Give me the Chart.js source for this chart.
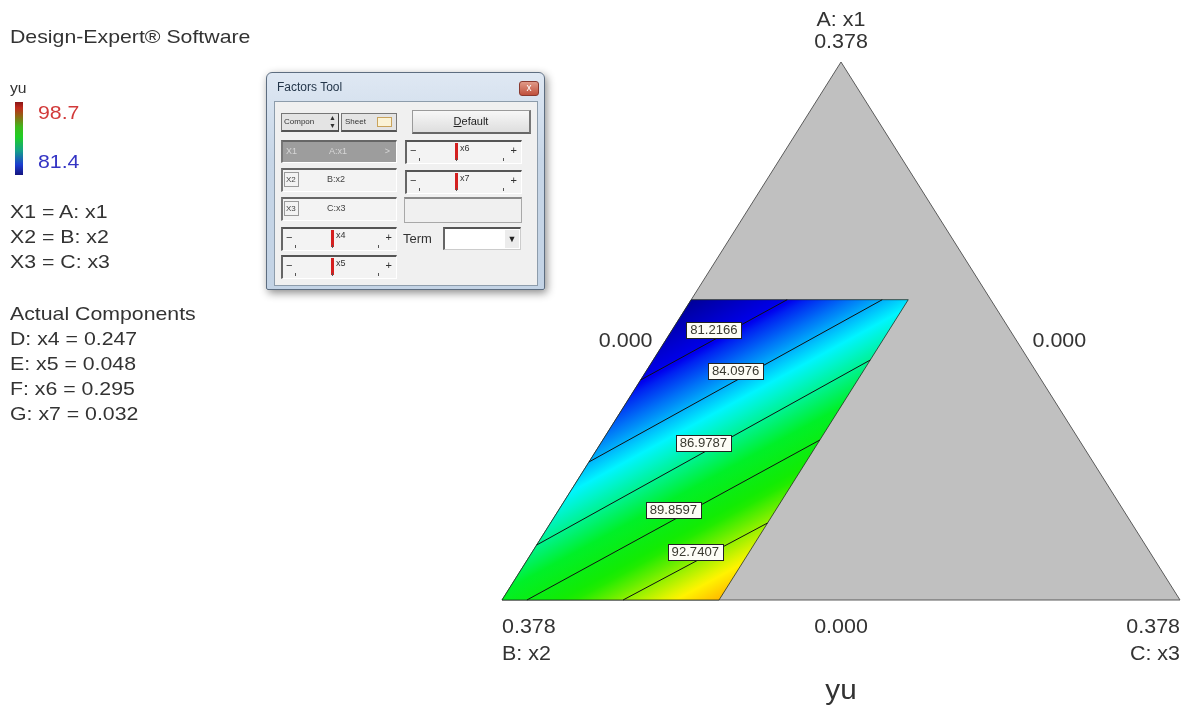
<!DOCTYPE html>
<html>
<head>
<meta charset="utf-8">
<script src="https://cdn.jsdelivr.net/npm/chart.js@4/dist/chart.umd.min.js"></script>
<style>
  html,body{margin:0;padding:0;background:#fff;}
  body{width:1190px;height:714px;position:relative;overflow:hidden;font-family:"Liberation Sans",Arial,sans-serif;}
  #wrap{position:absolute;left:0;top:0;width:1190px;height:714px;}
  .t{position:absolute;white-space:nowrap;transform-origin:0 50%;transform:scaleX(1.12);color:#333;font-size:19px;line-height:24px;}
  .w{position:absolute;box-sizing:border-box;font-family:"Liberation Sans",Arial,sans-serif;}
  .sl{position:absolute;box-sizing:border-box;background:#f3f3f3;border-top:2px solid #555;border-left:2px solid #666;border-right:1px solid #fff;border-bottom:1px solid #fff;}
  .sl .m{position:absolute;top:1px;width:3px;height:17px;background:#d42020;}
  .sl .lb{position:absolute;top:1px;font-size:9px;color:#333;}
  .sl .pm{position:absolute;top:3px;font-size:11px;color:#333;line-height:11px;}
  .sl .tk{position:absolute;bottom:2px;width:1px;height:3px;background:#555;}
  .fb{position:absolute;box-sizing:border-box;background:#f3f3f3;border-top:2px solid #666;border-left:2px solid #777;border-right:1px solid #fff;border-bottom:1px solid #fff;font-size:9px;color:#444;}
  .fb .k{position:absolute;left:1px;top:2px;width:15px;height:15px;border:1px solid #999;box-sizing:border-box;font-size:8px;line-height:13px;padding-left:1px;}
</style>
</head>
<body>
<div id="wrap"><canvas id="c"></canvas></div>

<!-- left legend panel -->
<div class="t" style="left:10px;top:25px;">Design-Expert® Software</div>
<div class="t" style="left:10px;top:76px;font-size:14px;">yu</div>
<div style="position:absolute;left:15px;top:102px;width:8px;height:73px;background:linear-gradient(to top,#14147e 0%,#1c3cd0 14%,#14a08a 33%,#1fcf24 52%,#3fb81c 66%,#8c6a14 80%,#c02a1c 92%,#8a1616 100%);"></div>
<div class="t" style="left:38px;top:101px;color:#d23a3a;">98.7</div>
<div class="t" style="left:38px;top:150px;color:#3434c4;">81.4</div>
<div id="legendLines"></div>

<!-- Factors Tool window (inset screenshot) -->
<div class="w" style="left:266px;top:72px;width:279px;height:218px;background:linear-gradient(#dfe8f3,#c7d6e7 40%,#c3d3e5);border:1px solid #5d6d80;border-radius:6px 6px 2px 2px;box-shadow:2px 3px 8px rgba(0,0,0,0.45);"></div>
<div class="w" style="left:277px;top:80px;font-size:12px;color:#24364a;">Factors Tool</div>
<div class="w" style="left:519px;top:81px;width:20px;height:15px;background:linear-gradient(#e09a88,#c0503c);border:1px solid #8a3a30;border-radius:3px;color:#fff;font-size:10px;line-height:12px;text-align:center;">x</div>
<div class="w" style="left:274px;top:101px;width:264px;height:185px;background:#f0f0f0;border:1px solid #8d9cab;"></div>

<div class="w" style="left:281px;top:113px;width:58px;height:19px;background:#e4e4e4;border:1px solid #777;border-right-color:#444;border-bottom:2px solid #555;font-size:8px;line-height:15px;padding-left:2px;color:#333;">Compon<span style="position:absolute;right:2px;top:0;font-size:7px;line-height:8px;">▲<br>▼</span></div>
<div class="w" style="left:341px;top:113px;width:56px;height:19px;background:#e4e4e4;border:1px solid #777;border-bottom:2px solid #555;font-size:8px;line-height:15px;padding-left:3px;color:#333;">Sheet<span style="position:absolute;left:35px;top:3px;width:15px;height:10px;background:#fbf3d6;border:1px solid #c9a35c;box-sizing:border-box;"></span></div>
<div class="w" style="left:412px;top:110px;width:119px;height:24px;background:linear-gradient(#f7f7f7,#dedede);border:1px solid #9a9a9a;border-bottom:2px solid #666;border-right:2px solid #777;font-size:11px;line-height:20px;text-align:center;color:#222;"><u>D</u>efault</div>

<div class="fb" style="left:281px;top:140px;width:116px;height:23px;background:#9d9d9d;border-top-color:#666;color:#d6d6d6;"><span style="position:absolute;left:3px;top:4px;">X1</span><span style="position:absolute;left:46px;top:4px;">A:x1</span><span style="position:absolute;right:6px;top:4px;">&gt;</span></div>
<div class="fb" style="left:281px;top:168px;width:116px;height:24px;"><span class="k">X2</span><span style="position:absolute;left:44px;top:4px;">B:x2</span></div>
<div class="fb" style="left:281px;top:197px;width:116px;height:24px;"><span class="k">X3</span><span style="position:absolute;left:44px;top:4px;">C:x3</span></div>
<div id="sliders"></div>
<div class="w" style="left:404px;top:197px;width:118px;height:26px;background:#f0f0f0;border:1px solid #a8a8a8;border-top:2px solid #8a8a8a;"></div>
<div class="w" style="left:403px;top:231px;font-size:13px;color:#333;">Term</div>
<div class="w" style="left:443px;top:227px;width:78px;height:23px;background:#fff;border-top:2px solid #555;border-left:2px solid #666;border-right:1px solid #ccc;border-bottom:1px solid #ccc;"><span style="position:absolute;right:1px;top:1px;width:14px;height:18px;background:#ececec;font-size:9px;line-height:18px;text-align:center;color:#222;">▼</span></div>

<script>
// ---------------- data ----------------
const TOTAL = 0.378;                       // mixture total for A+B+C (actual units)
const vertexNames = ['A: x1', 'B: x2', 'C: x3'];
const vertexMax = [0.378, 0.378, 0.378];   // tick label at each vertex
const edgeMin = [0.000, 0.000, 0.000];     // tick label at the opposite edge
const responseName = 'yu';
const colorMin = 81.4;
const colorMax = 98.7;

// feasible (coloured) region, corners in actual component units
const regionA = [0.000, 0.000, 0.211, 0.211];
const regionC = [0.000, 0.121, 0.121, 0.000];

// contour lines: level, start point (A, C) and end point (A, C)
const contourLevels = [81.2166, 84.0976, 86.9787, 89.8597, 92.7407];
const contourStartA = [0.211, 0.211, 0.1686, 0.1124, 0.0541];
const contourStartC = [0.0535, 0.1065, 0.121, 0.121, 0.121];
const contourEndA   = [0.1546, 0.0970, 0.0386, 0.000, 0.000];
const contourEndC   = [0.000, 0.000, 0.000, 0.0139, 0.0675];

const factorLines = ['X1 = A: x1', 'X2 = B: x2', 'X3 = C: x3'];
const actualComponents = ['D: x4 = 0.247', 'E: x5 = 0.048', 'F: x6 = 0.295', 'G: x7 = 0.032'];
const sliderNames = ['x4', 'x5', 'x6', 'x7'];

// ---------------- left legend text ----------------
(function(){
  const host = document.getElementById('legendLines');
  const add = (txt, top) => { const d = document.createElement('div'); d.className = 't'; d.style.left = '10px'; d.style.top = top + 'px'; d.textContent = txt; host.appendChild(d); };
  factorLines.forEach((s, i) => add(s, 200 + i * 25));
  add('Actual Components', 302);
  actualComponents.forEach((s, i) => add(s, 327 + i * 25));
})();

// ---------------- factors tool sliders ----------------
(function(){
  const host = document.getElementById('sliders');
  const boxes = [[281, 227, 116], [281, 255, 116], [405, 140, 117], [405, 170, 117]];
  sliderNames.forEach((n, i) => {
    const [l, t, w] = boxes[i];
    const d = document.createElement('div'); d.className = 'sl';
    d.style.left = l + 'px'; d.style.top = t + 'px'; d.style.width = w + 'px'; d.style.height = '24px';
    const mx = Math.round(w * 0.41);
    d.innerHTML = '<span class="pm" style="left:3px;">\u2212</span><span class="pm" style="right:4px;">+</span>' +
      '<span class="m" style="left:' + mx + 'px;"></span><span class="lb" style="left:' + (mx + 5) + 'px;">' + n + '</span>' +
      '<span class="tk" style="left:' + Math.round(w * 0.1) + 'px;"></span><span class="tk" style="left:' + (mx + 1) + 'px;"></span><span class="tk" style="left:' + Math.round(w * 0.82) + 'px;"></span>';
    host.appendChild(d);
  });
})();

// ---------------- chart ----------------
function toXY(A, C) { const a = A / TOTAL, c = C / TOTAL; return { x: c + a / 2, y: a }; }

function colorFor(v) {
  const t = (v - colorMin) / (colorMax - colorMin);
  if (t < 0) { const k = Math.min(1, -t / 0.2); return 'rgb(0,0,' + Math.round(240 - 100 * k) + ')'; }
  const stops = [[0, 0, 10, 240], [0.22, 0, 245, 255], [0.42, 0, 240, 40], [0.56, 20, 235, 0], [0.74, 255, 245, 0], [0.86, 255, 150, 0], [1, 230, 0, 0]];
  const tt = Math.min(1, t);
  for (let i = 0; i < stops.length - 1; i++) {
    const s0 = stops[i], s1 = stops[i + 1];
    if (tt <= s1[0]) {
      const f = (tt - s0[0]) / (s1[0] - s0[0]);
      return 'rgb(' + [1, 2, 3].map(j => Math.round(s0[j] + f * (s1[j] - s0[j]))).join(',') + ')';
    }
  }
  return 'rgb(230,0,0)';
}

function regionFill(context) {
  const chart = context.chart;
  const { chartArea, scales } = chart;
  if (!chartArea || !scales.x) return 'rgba(0,0,0,0)';
  const X = scales.x, Y = scales.y;
  const pix = (A, C) => { const p = toXY(A, C); return { x: X.getPixelForValue(p.x), y: Y.getPixelForValue(p.y) }; };
  const segs = contourLevels.map((lv, i) => [pix(contourStartA[i], contourStartC[i]), pix(contourEndA[i], contourEndC[i])]);
  let dx = 0, dy = 0;
  segs.forEach(([p, q]) => { const l = Math.hypot(q.x - p.x, q.y - p.y); dx += (q.x - p.x) / l; dy += (q.y - p.y) / l; });
  const L = Math.hypot(dx, dy); dx /= L; dy /= L;
  let nx = -dy, ny = dx;
  const proj = p => p.x * nx + p.y * ny;
  const mid = s => ({ x: (s[0].x + s[1].x) / 2, y: (s[0].y + s[1].y) / 2 });
  let pr = segs.map(s => proj(mid(s)));
  if (pr[pr.length - 1] < pr[0]) { nx = -nx; ny = -ny; pr = pr.map(v => -v); }
  const corners = regionA.map((a, i) => pix(a, regionC[i]));
  const cp = corners.map(proj);
  const pmin = Math.min(...cp), pmax = Math.max(...cp);
  const ref = corners[0], r0 = proj(ref);
  const g0 = { x: ref.x + nx * (pmin - r0), y: ref.y + ny * (pmin - r0) };
  const g1 = { x: ref.x + nx * (pmax - r0), y: ref.y + ny * (pmax - r0) };
  const grad = chart.ctx.createLinearGradient(g0.x, g0.y, g1.x, g1.y);
  const valueAt = p => {
    let i = 0; while (i < pr.length - 2 && p > pr[i + 1]) i++;
    return contourLevels[i] + (p - pr[i]) * (contourLevels[i + 1] - contourLevels[i]) / (pr[i + 1] - pr[i]);
  };
  for (let k = 0; k <= 40; k++) { const s = k / 40; grad.addColorStop(s, colorFor(valueAt(pmin + s * (pmax - pmin)))); }
  return grad;
}

const FONT = '"Liberation Sans", Arial, sans-serif';
function drawText(ctx, str, x, y, align, size, color) {
  ctx.save();
  ctx.font = size + 'px ' + FONT;
  ctx.fillStyle = color;
  ctx.textBaseline = 'middle';
  ctx.textAlign = align;
  ctx.translate(x, y);
  ctx.scale(1.1, 1);
  ctx.fillText(str, 0, 0);
  ctx.restore();
}

const labelPlugin = {
  id: 'ternaryLabels',
  afterDatasetsDraw(chart) {
    const { ctx, scales } = chart;
    const X = scales.x, Y = scales.y;
    const pix = (A, C) => { const p = toXY(A, C); return { x: X.getPixelForValue(p.x), y: Y.getPixelForValue(p.y) }; };
    // contour labels
    contourLevels.forEach((lv, i) => {
      const p = pix(contourStartA[i], contourStartC[i]), q = pix(contourEndA[i], contourEndC[i]);
      const cx = (p.x + q.x) / 2, cy = (p.y + q.y) / 2 - 10;
      const txt = lv.toFixed(4);
      ctx.save();
      ctx.font = '12.5px ' + FONT;
      const w = ctx.measureText(txt).width * 1.05 + 8, h = 16;
      ctx.fillStyle = '#fdfdf6';
      ctx.fillRect(Math.round(cx - w / 2) + 0.5, Math.round(cy - h / 2) + 0.5, Math.round(w), h);
      ctx.strokeStyle = '#222'; ctx.lineWidth = 1;
      ctx.strokeRect(Math.round(cx - w / 2) + 0.5, Math.round(cy - h / 2) + 0.5, Math.round(w), h);
      ctx.restore();
      ctx.save();
      ctx.font = '12.5px ' + FONT; ctx.fillStyle = '#3a3a30'; ctx.textBaseline = 'middle'; ctx.textAlign = 'center';
      ctx.translate(cx, cy + 1); ctx.scale(1.05, 1); ctx.fillText(txt, 0, 0); ctx.restore();
    });
    // vertex and edge labels
    const vA = pix(TOTAL, 0), vB = pix(0, 0), vC = pix(0, TOTAL);
    const col = '#333', fs = 19.5;
    drawText(ctx, vertexNames[0], vA.x, vA.y - 41, 'center', fs, col);
    drawText(ctx, vertexMax[0].toFixed(3), vA.x, vA.y - 19, 'center', fs, col);
    drawText(ctx, vertexMax[1].toFixed(3), vB.x, vB.y + 28, 'left', fs, col);
    drawText(ctx, vertexNames[1], vB.x, vB.y + 55, 'left', fs, col);
    drawText(ctx, vertexMax[2].toFixed(3), vC.x, vC.y + 28, 'right', fs, col);
    drawText(ctx, vertexNames[2], vC.x, vC.y + 55, 'right', fs, col);
    // edge minimums (opposite each vertex)
    const mBC = { x: (vB.x + vC.x) / 2, y: vB.y };
    const mAB = { x: (vA.x + vB.x) / 2, y: (vA.y + vB.y) / 2 };
    const mAC = { x: (vA.x + vC.x) / 2, y: (vA.y + vC.y) / 2 };
    drawText(ctx, edgeMin[0].toFixed(3), mBC.x, mBC.y + 28, 'center', fs, col);
    drawText(ctx, edgeMin[2].toFixed(3), mAB.x - 19, mAB.y + 11, 'right', fs, col);
    drawText(ctx, edgeMin[1].toFixed(3), mAC.x + 22, mAC.y + 11, 'left', fs, col);
    drawText(ctx, responseName, mBC.x, mBC.y + 92, 'center', 27, col);
  }
};

const close = (arrA, arrC) => { const pts = arrA.map((a, i) => toXY(a, arrC[i])); pts.push(pts[0]); return pts; };

const datasets = [
  {
    label: 'simplex',
    data: close([0, 0, TOTAL], [0, TOTAL, 0]),
    showLine: true, fill: 'shape', backgroundColor: '#c0c0c0', borderColor: '#5a5a5a', borderWidth: 1,
    pointRadius: 0, order: 3, clip: false
  },
  {
    label: 'region',
    data: close(regionA, regionC),
    showLine: true, fill: 'shape', backgroundColor: regionFill, borderColor: 'rgba(30,40,30,0.75)', borderWidth: 1,
    pointRadius: 0, order: 2, clip: false
  }
];
contourLevels.forEach((lv, i) => {
  datasets.push({
    label: String(lv),
    data: [toXY(contourStartA[i], contourStartC[i]), toXY(contourEndA[i], contourEndC[i])],
    showLine: true, fill: false, borderColor: '#111', borderWidth: 1, pointRadius: 0, order: 1, clip: false
  });
});

Chart.defaults.font.family = FONT;
new Chart(document.getElementById('c'), {
  type: 'scatter',
  data: { datasets },
  options: {
    responsive: true, maintainAspectRatio: false, animation: false,
    layout: { padding: { left: 502, right: 10, top: 62, bottom: 114 } },
    plugins: { legend: { display: false }, tooltip: { enabled: false }, title: { display: false } },
    scales: {
      x: { type: 'linear', min: 0, max: 1, display: false },
      y: { type: 'linear', min: 0, max: 1, display: false }
    },
    elements: { line: { tension: 0 } }
  },
  plugins: [labelPlugin]
});
</script>
</body>
</html>
